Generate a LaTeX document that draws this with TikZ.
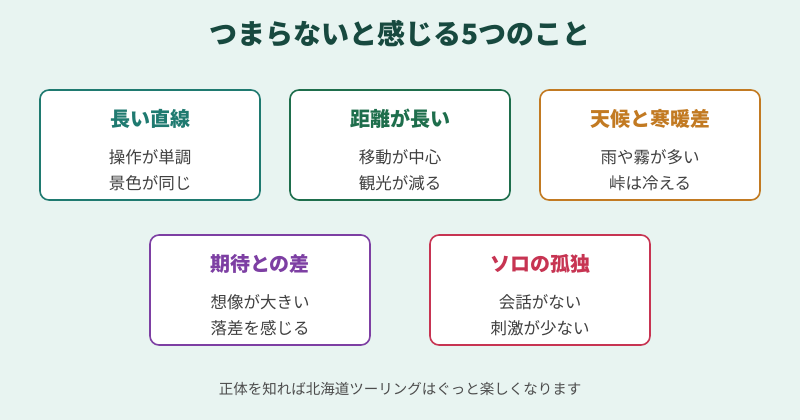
\documentclass[tikz,border=0pt]{standalone}
\usepackage{fontspec}
\setmainfont{Noto Sans CJK JP}
\begin{document}
\begin{tikzpicture}[x=1pt,y=-1pt,
 card/.style={draw=#1,line width=1.6pt,rounded corners=9pt,fill=white,minimum width=220pt,minimum height=110pt},
 ctitle/.style={text=#1,font=\bfseries\fontsize{20}{24}\selectfont},
 cbody/.style={text=black!75,font=\fontsize{16.5}{26}\selectfont,align=center}]
\definecolor{bg}{HTML}{E8F4F1}
\definecolor{cA}{HTML}{1F7A70}
\definecolor{cB}{HTML}{1E6E4C}
\definecolor{cC}{HTML}{C27A22}
\definecolor{cD}{HTML}{7D3FA3}
\definecolor{cE}{HTML}{C73452}
\fill[bg] (0,0) rectangle (800,420);
\node (title) at (400,34) {\bfseries\fontsize{28}{32}\selectfont\color[HTML]{17493F}つまらないと感じる5つのこと};
\foreach \n/\x/\y/\c/\t/\a/\b in {
 a/150/145/cA/長い直線/操作が単調/景色が同じ,
 b/400/145/cB/距離が長い/移動が中心/観光が減る,
 c/650/145/cC/天候と寒暖差/雨や霧が多い/峠は冷える,
 d/260/290/cD/期待との差/想像が大きい/落差を感じる,
 e/540/290/cE/ソロの孤独/会話がない/刺激が少ない}{
 \node[card=\c] (\n) at (\x,\y) {};
 \node[ctitle=\c] (\n t) at (\x,\y-26) {\t};
 \node[cbody] (\n b) at (\x,\y+25) {\a\\\b};
}
\node (foot) at (400,389) {\fontsize{14.5}{16}\selectfont\color{black!70}正体を知れば北海道ツーリングはぐっと楽しくなります};
\end{tikzpicture}
\end{document}
